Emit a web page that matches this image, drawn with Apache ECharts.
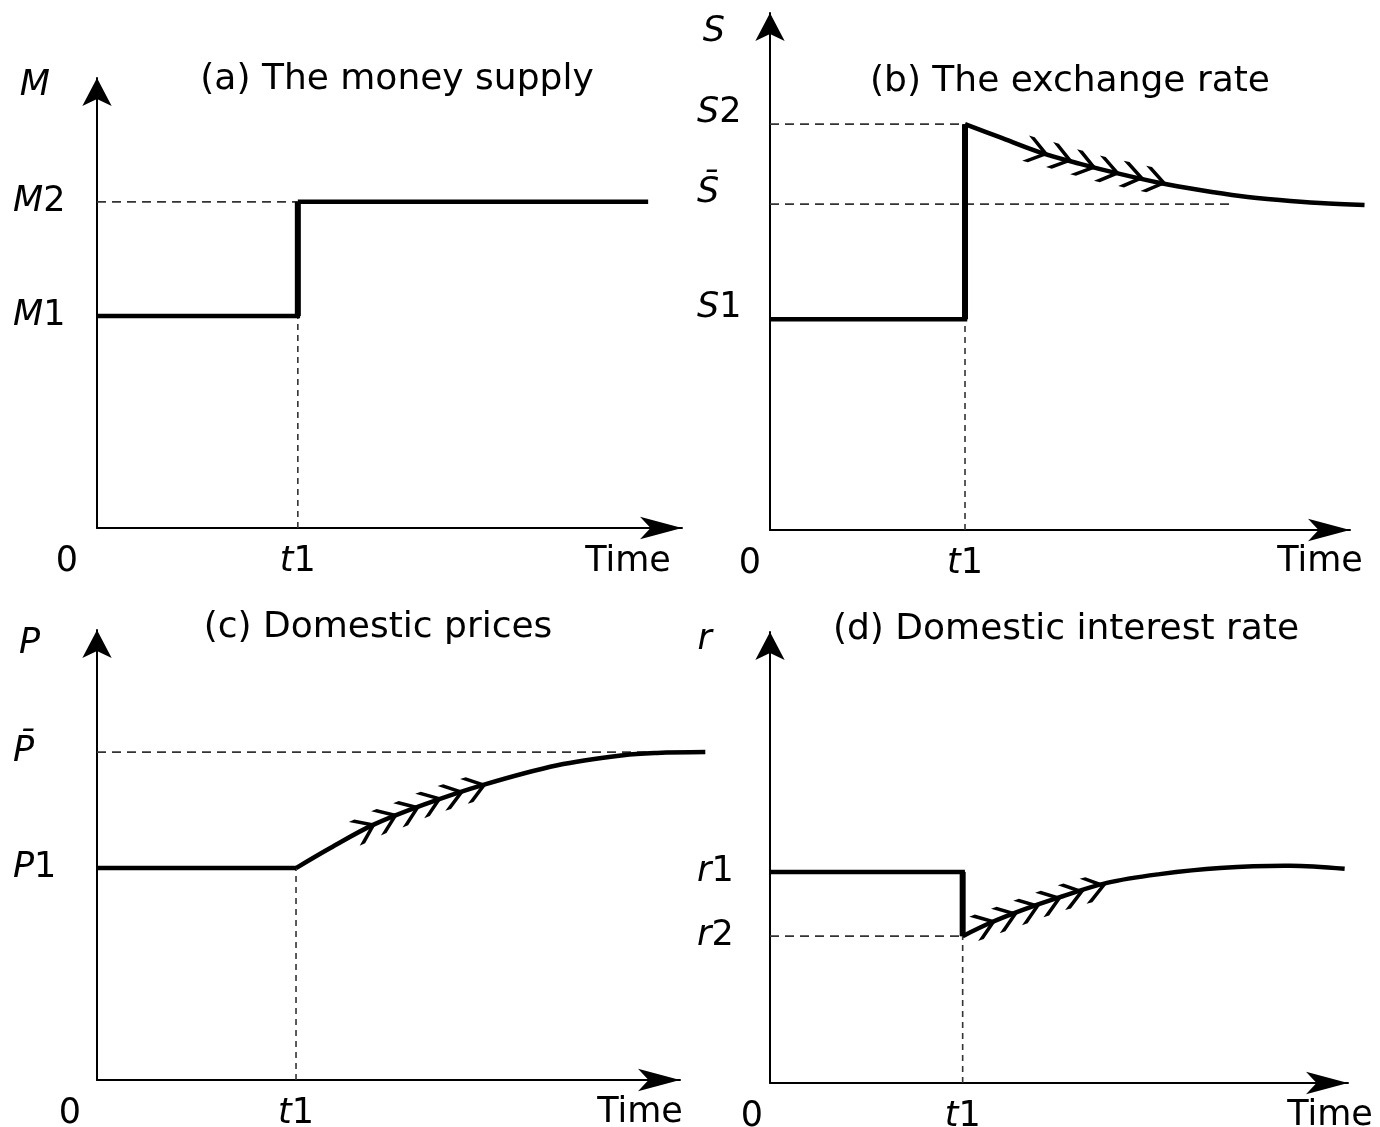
<!DOCTYPE html>
<html><head><meta charset="utf-8">
<script src="https://cdn.jsdelivr.net/npm/echarts@6/dist/echarts.min.js"></script>
<style>html,body{margin:0;padding:0;background:#fff}#c{width:1380px;height:1127px}</style>
</head><body><div id="c"></div>
<script>
// ================= DATA =================
const panelTitles = ['(a) The money supply', '(b) The exchange rate', '(c) Domestic prices', '(d) Domestic interest rate'];
const axisNames = ['M', 'S', 'P', 'r'];
const timeAxisName = 'Time';
const t1Values = [3.56, 3.49, 3.54, 3.46];

// (a) money supply
const moneyTime   = [0, 3.56, 3.56, 9.77];
const moneySupply = [4.86, 4.86, 7.48, 7.48];
const moneyTicks  = [4.86, 7.48];
const moneyTickLabels = ['M1', 'M2'];

// (b) exchange rate
const rateTime  = [0, 3.49, 3.49, 4.11, 4.83, 5.55, 6.26, 6.98, 7.69, 8.41, 9.12, 9.84, 10.64];
const rateValue = [4.19, 4.19, 8.07, 7.81, 7.51, 7.28, 7.08, 6.90, 6.76, 6.64, 6.56, 6.50, 6.46];
const rateTicks = [4.19, 6.48, 8.07];
const rateTickLabels = ['S1', 'S\u0304', 'S2'];
const rateArrowTime  = [4.78, 5.21, 5.64, 6.06, 6.49, 6.89];
const rateArrowValue = [7.53, 7.40, 7.26, 7.14, 7.04, 6.94];
const rateLongRunEnd = 8.32;

// (c) domestic prices
const priceTime  = [0, 3.54, 4.15, 4.91, 5.80, 6.87, 8.19, 9.36, 9.96, 10.82];
const priceValue = [4.86, 4.86, 5.32, 5.85, 6.31, 6.77, 7.22, 7.45, 7.50, 7.52];
const priceTicks = [4.86, 7.52];
const priceTickLabels = ['P1', 'P\u0304'];
const priceArrowTime  = [4.77, 5.16, 5.55, 5.94, 6.33, 6.73];
const priceArrowValue = [5.76, 5.99, 6.17, 6.38, 6.54, 6.70];
const priceLongRunEnd = 10.7;

// (d) domestic interest rate
const interestTime  = [0, 3.46, 3.46, 3.95, 4.54, 5.15, 6.05, 7.00, 8.08, 9.34, 10.32];
const interestValue = [4.83, 4.83, 3.36, 3.66, 3.96, 4.23, 4.58, 4.78, 4.92, 4.97, 4.90];
const interestTicks = [3.36, 4.83];
const interestTickLabels = ['r2', 'r1'];
const interestArrowTime  = [3.86, 4.25, 4.65, 5.04, 5.44, 5.83];
const interestArrowValue = [3.62, 3.80, 3.98, 4.16, 4.32, 4.46];

// axis extents (arrow tips)
const xAxisMax = [10.37, 10.38, 10.37, 10.38];
const yAxisMax = [10.32, 10.28, 10.32, 10.32];

// ================= LAYOUT / STYLE =================
const FONT = 'DejaVu Sans';
const INK = '#000';
const grids = [
  {left: 97,  top: 78,  width: 585, height: 450},
  {left: 770, top: 13,  width: 580, height: 517},
  {left: 97,  top: 630, width: 583, height: 450},
  {left: 770, top: 632, width: 578, height: 451}
];
const titlePos = [[397, 62], [1070, 64], [378, 610], [1066, 612]];
const ly = [
  {labMargin: 84, labPad: [0,0,0,0],  nameGap: -8,  namePadR: 47, timeGap: -54, timePadT: 16, zeroPad: 60},
  {labMargin: 73, labPad: [0,0,22,0], nameGap: -19, namePadR: 45, timeGap: -30, timePadT: 14, zeroPad: 40},
  {labMargin: 84, labPad: [0,0,0,0],  nameGap: -14, namePadR: 57, timeGap: -40, timePadT: 15, zeroPad: 54},
  {labMargin: 73, labPad: [0,0,0,0],  nameGap: -8,  namePadR: 58, timeGap: -18, timePadT: 15, zeroPad: 36}
];
const CHEVRON = 'path://M0,0 L6,0 L24,13 L6,26 L0,26 L18,13 Z';
const LBL = 35;

const panels = [
  {xs: moneyTime, ys: moneySupply, ticks: moneyTicks, tickLabels: moneyTickLabels, ax: [], ay: [],
   guidesH: [[0, t1Values[0], moneySupply[2]]], guideV: moneySupply[0]},
  {xs: rateTime, ys: rateValue, ticks: rateTicks, tickLabels: rateTickLabels, ax: rateArrowTime, ay: rateArrowValue,
   guidesH: [[0, t1Values[1], rateValue[2]], [0, rateLongRunEnd, rateTicks[1]]], guideV: rateValue[0]},
  {xs: priceTime, ys: priceValue, ticks: priceTicks, tickLabels: priceTickLabels, ax: priceArrowTime, ay: priceArrowValue,
   guidesH: [[0, priceLongRunEnd, priceTicks[1]]], guideV: priceValue[0]},
  {xs: interestTime, ys: interestValue, ticks: interestTicks, tickLabels: interestTickLabels, ax: interestArrowTime, ay: interestArrowValue,
   guidesH: [[0, t1Values[3], interestValue[2]]], guideV: interestValue[2]}
];

function italicRich(size) {
  return {i: {fontStyle: 'italic', fontFamily: FONT, fontSize: size, color: INK},
          n: {fontFamily: FONT, fontSize: size, color: INK}};
}

// a polyline drawn through the library's coordinate system, not clipped at the axis end
function pathSeries(i, points, style, smooth, z) {
  return {
    type: 'custom', coordinateSystem: 'cartesian2d', xAxisIndex: i, yAxisIndex: i,
    clip: false, silent: true, z: z || 3,
    data: points,
    renderItem: (params, api) => {
      if (params.dataIndex !== 0) return null;
      const px = points.map(p => api.coord(p));
      return {type: 'polyline', shape: {points: px, smooth: smooth || 0},
              style: Object.assign({fill: null}, style)};
    }
  };
}

const option = {
  animation: false,
  backgroundColor: '#fff',
  title: panelTitles.map((t, i) => ({
    text: t, left: titlePos[i][0], top: titlePos[i][1], textAlign: 'center', padding: 0,
    textStyle: {fontFamily: FONT, fontSize: 36, fontWeight: 'normal', color: INK}
  })),
  grid: grids.map(g => Object.assign({containLabel: false, outerBoundsMode: 'none'}, g)),
  xAxis: [], yAxis: [], series: []
};

panels.forEach((p, i) => {
  const t1 = t1Values[i];
  const L = ly[i];
  option.xAxis.push({
    gridIndex: i, type: 'value', min: 0, max: xAxisMax[i],
    axisLine: {show: true, onZero: false, lineStyle: {color: INK, width: 2}, symbol: ['none', 'arrow'], symbolSize: [17, 42]},
    axisTick: {show: false}, splitLine: {show: false},
    axisLabel: {
      customValues: [0, t1], margin: 16, fontFamily: FONT, fontSize: LBL, color: INK,
      formatter: v => (Math.abs(v) < 1e-9 ? '{z|0}' : '{i|t}{n|1}'),
      rich: Object.assign({z: {fontFamily: FONT, fontSize: LBL, color: INK, padding: [0, L.zeroPad, 0, 0]}}, italicRich(LBL))
    },
    name: timeAxisName, nameLocation: 'end', nameGap: L.timeGap,
    nameTextStyle: {fontFamily: FONT, fontSize: LBL, color: INK, align: 'center', verticalAlign: 'top', padding: [L.timePadT, 0, 0, 0]}
  });
  option.yAxis.push({
    gridIndex: i, type: 'value', min: 0, max: yAxisMax[i],
    axisLine: {show: true, onZero: false, lineStyle: {color: INK, width: 2}, symbol: ['none', 'arrow'], symbolSize: [22, 28]},
    axisTick: {show: false}, splitLine: {show: false},
    axisLabel: {
      customValues: p.ticks, margin: L.labMargin, align: 'left', padding: L.labPad,
      fontFamily: FONT, fontSize: LBL, color: INK,
      formatter: v => {
        let k = 0, best = Infinity;
        p.ticks.forEach((tv, j) => { const d = Math.abs(tv - v); if (d < best) { best = d; k = j; } });
        const m = p.tickLabels[k].match(/^(.*?)(\d*)$/);
        return '{i|' + m[1] + '}' + (m[2] ? '{n|' + m[2] + '}' : '');
      },
      rich: italicRich(LBL)
    },
    name: axisNames[i], nameLocation: 'end', nameGap: L.nameGap,
    nameTextStyle: {fontFamily: FONT, fontSize: LBL, fontStyle: 'italic', color: INK, align: 'right', verticalAlign: 'middle', padding: [0, L.namePadR, 0, 0]}
  });

  const pts = p.xs.map((x, k) => [x, p.ys[k]]);
  let cs = 0;
  p.xs.forEach((x, k) => { if (x === t1) cs = k; });
  const stepPart = pts.slice(0, cs + 1);
  const curvePart = pts.slice(cs);

  // dashed guides
  p.guidesH.forEach(g => {
    option.series.push(pathSeries(i, [[g[0], g[2]], [g[1], g[2]]],
      {stroke: '#333', lineWidth: 1.6, lineDash: [9, 6]}, 0, 2));
  });
  option.series.push(pathSeries(i, [[t1, 0], [t1, p.guideV]],
    {stroke: '#333', lineWidth: 1.6, lineDash: [6, 5]}, 0, 2));
  // step part
  option.series.push(pathSeries(i, stepPart, {stroke: '#000', lineWidth: 4.5, lineJoin: 'miter'}, 0, 4));
  // jump (vertical) part thicker
  if (cs > 0 && p.xs[cs - 1] === t1) {
    option.series.push(pathSeries(i, [pts[cs - 1], pts[cs]], {stroke: '#000', lineWidth: 6}, 0, 4));
  }
  // adjustment path
  option.series.push(pathSeries(i, curvePart, {stroke: '#000', lineWidth: 4.5, lineCap: 'butt', lineJoin: 'round'}, 0.35, 4));

  if (p.ax.length) {
    option.series.push({
      id: 'chev' + i, type: 'scatter', xAxisIndex: i, yAxisIndex: i, z: 5, silent: true,
      symbol: CHEVRON, symbolSize: [24, 26],
      itemStyle: {color: '#000', opacity: 1},
      data: p.ax.map((x, k) => [x, p.ay[k]])
    });
  }
});

const chart = echarts.init(document.getElementById('c'), null, {renderer: 'canvas'});
chart.setOption(option);

// orient chevrons along the path
const upd = [];
panels.forEach((p, i) => {
  if (!p.ax.length) return;
  const px = p.ax.map((x, k) => chart.convertToPixel({gridIndex: i}, [x, p.ay[k]]));
  const data = px.map((pt, k) => {
    const a = px[Math.max(0, k - 1)], b = px[Math.min(px.length - 1, k + 1)];
    const ang = Math.atan2(-(b[1] - a[1]), b[0] - a[0]) * 180 / Math.PI;
    return {value: [p.ax[k], p.ay[k]], symbolRotate: ang};
  });
  upd.push({id: 'chev' + i, data: data});
});
chart.setOption({series: upd});
</script>
</body></html>
